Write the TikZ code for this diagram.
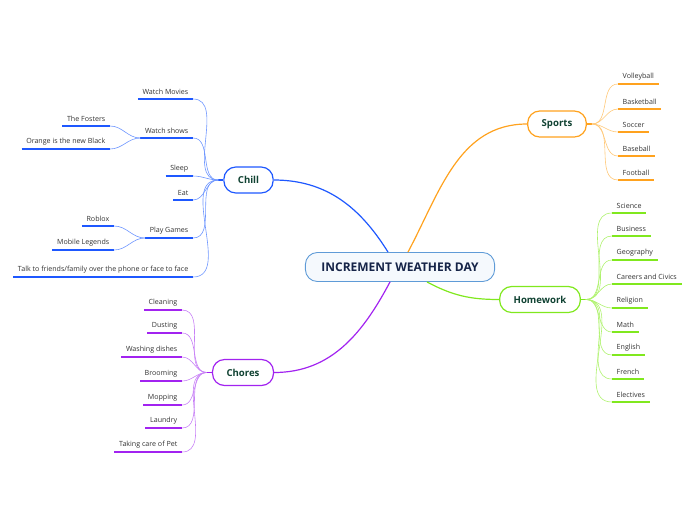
\documentclass[tikz,border=0pt]{standalone}
\usepackage{fontspec}
\setmainfont{Open Sans}
\usetikzlibrary{positioning, calc}
\definecolor{CB}{RGB}{30,88,255}
\definecolor{LB}{RGB}{110,150,255}
\definecolor{CO}{RGB}{255,162,30}
\definecolor{LO}{RGB}{255,200,120}
\definecolor{CG}{RGB}{128,232,30}
\definecolor{LG}{RGB}{175,242,110}
\definecolor{CP}{RGB}{162,35,240}
\definecolor{LP}{RGB}{200,130,246}
\definecolor{TB}{RGB}{95,155,215}
\definecolor{TN}{RGB}{22,36,72}
\definecolor{TG}{RGB}{16,66,50}
\definecolor{DG}{RGB}{50,50,50}

\begin{document}
\begin{tikzpicture}[x=1pt, y=1pt,
  title/.style={draw=TB, rounded corners=12pt, line width=0.9pt, fill=TB!6,
                minimum height=29pt, inner xsep=16pt,
                font=\fontsize{12}{14}\selectfont\bfseries, text=TN},
  topic/.style={draw=#1, rounded corners=12pt, line width=1.2pt, fill=white,
                minimum height=26pt, inner xsep=14pt,
                font=\fontsize{9.6}{11}\selectfont\bfseries, text=TG},
  leafL/.style={anchor=south east, inner xsep=4.5pt, inner ysep=4pt,
                font=\fontsize{7.1}{8.5}\selectfont, text=DG,
                append after command={(\tikzlastnode.south west)
                  edge[draw=#1, line width=1.6pt] (\tikzlastnode.south east)}},
  leafR/.style={anchor=south west, inner xsep=4.5pt, inner ysep=4pt,
                font=\fontsize{7.1}{8.5}\selectfont, text=DG,
                append after command={(\tikzlastnode.south west)
                  edge[draw=#1, line width=1.6pt] (\tikzlastnode.south east)}},
  limb/.style={draw=#1, line width=1.2pt},
  twig/.style={draw=#1, line width=0.6pt}
]
\useasboundingbox (0,0) rectangle (696,-520);

% Main topics
\node[title]    (day)   at (400,-267) {INCREMENT WEATHER DAY};
\node[topic=CB] (chill) at (248.5,-180) {Chill};
\node[topic=CO] (sport) at (557,-124) {Sports};
\node[topic=CG] (home)  at (540,-299.5) {Homework};
\node[topic=CP] (chore) at (243,-372.5) {Chores};

\draw[limb=CB] ($(day.north)+(-12,0)$) to[out=122,in=0] (chill.east);
\draw[limb=CO] ($(day.north)+(8,0)$) to[out=62,in=180] (sport.west);
\draw[limb=CG] ($(day.south)+(27,0)$) to[out=-28,in=180] (home.west);
\draw[limb=CP] ($(day.south)+(-10,0)$) to[out=-118,in=0] (chore.east);

% Joints
\coordinate (chJ) at ($(chill.west)+(-5,0)$);
\coordinate (spJ) at ($(sport.east)+(5,0)$);
\coordinate (hoJ) at ($(home.east)+(5,0)$);
\coordinate (coJ) at ($(chore.west)+(-5,0)$);
\draw[limb=CB] (chJ)--(chill.west);
\draw[limb=CO] (spJ)--(sport.east);
\draw[limb=CG] (hoJ)--(home.east);
\draw[limb=CP] (coJ)--(chore.west);

% Chill
\node[leafL=CB] (movie)  at (193,-99)  {Watch Movies};
\node[leafL=CB] (shows)  at (193,-138) {Watch shows};
\node[leafL=CB] (foster) at (110,-126) {The Fosters};
\node[leafL=CB] (orange) at (110,-149) {Orange is the new Black};
\node[leafL=CB] (sleep)  at (193,-176) {Sleep};
\node[leafL=CB] (eat)    at (193,-200) {Eat};
\node[leafL=CB] (games)  at (193,-238) {Play Games};
\node[leafL=CB] (roblox) at (114,-226) {Roblox};
\node[leafL=CB] (mobile) at (114,-250) {Mobile Legends};
\node[leafL=CB] (talk)   at (193,-277) {Talk to friends/family over the phone or face to face};

\draw[twig=LB] (movie.south east) to[out=0,in=180] (chJ);
\draw[twig=LB] (shows.south east) to[out=0,in=180] (chJ);
\draw[twig=LB] (sleep.south east) to[out=0,in=180] (chJ);
\draw[twig=LB] (eat.south east)   to[out=0,in=180] (chJ);
\draw[twig=LB] (games.south east) to[out=0,in=180] (chJ);
\draw[twig=LB] (talk.south east)  to[out=0,in=180] (chJ);
\draw[twig=LB] (foster.south east) to[out=0,in=180] (shows.south west);
\draw[twig=LB] (orange.south east) to[out=0,in=180] (shows.south west);
\draw[twig=LB] (roblox.south east) to[out=0,in=180] (games.south west);
\draw[twig=LB] (mobile.south east) to[out=0,in=180] (games.south west);

% Chores
\node[leafL=CP] (clean) at (182,-310) {Cleaning};
\node[leafL=CP] (dust)  at (182,-333) {Dusting};
\node[leafL=CP] (dish)  at (182,-357) {Washing dishes};
\node[leafL=CP] (broom) at (182,-381) {Brooming};
\node[leafL=CP] (mop)   at (182,-405) {Mopping};
\node[leafL=CP] (laund) at (182,-428) {Laundry};
\node[leafL=CP] (pet)   at (182,-452) {Taking care of Pet};

\draw[twig=LP] (clean.south east) to[out=0,in=180] (coJ);
\draw[twig=LP] (dust.south east)  to[out=0,in=180] (coJ);
\draw[twig=LP] (dish.south east)  to[out=0,in=180] (coJ);
\draw[twig=LP] (broom.south east) to[out=0,in=180] (coJ);
\draw[twig=LP] (mop.south east)   to[out=0,in=180] (coJ);
\draw[twig=LP] (laund.south east) to[out=0,in=180] (coJ);
\draw[twig=LP] (pet.south east)   to[out=0,in=180] (coJ);

% Sports
\node[leafR=CO] (volley) at (618,-84)  {Volleyball};
\node[leafR=CO] (basket) at (618,-109) {Basketball};
\node[leafR=CO] (soccer) at (618,-132) {Soccer};
\node[leafR=CO] (base)   at (618,-156) {Baseball};
\node[leafR=CO] (foot)   at (618,-180) {Football};

\draw[twig=LO] (spJ) to[out=0,in=180] (volley.south west);
\draw[twig=LO] (spJ) to[out=0,in=180] (basket.south west);
\draw[twig=LO] (spJ) to[out=0,in=180] (soccer.south west);
\draw[twig=LO] (spJ) to[out=0,in=180] (base.south west);
\draw[twig=LO] (spJ) to[out=0,in=180] (foot.south west);

% Homework
\node[leafR=CG] (sci)   at (612,-213) {Science};
\node[leafR=CG] (bus)   at (612,-236) {Business};
\node[leafR=CG] (geo)   at (612,-260) {Geography};
\node[leafR=CG] (civ)   at (612,-284) {Careers and Civics};
\node[leafR=CG] (rel)   at (612,-308) {Religion};
\node[leafR=CG] (math)  at (612,-332) {Math};
\node[leafR=CG] (eng)   at (612,-355) {English};
\node[leafR=CG] (fre)   at (612,-379) {French};
\node[leafR=CG] (elec)  at (612,-402) {Electives};

\draw[twig=LG] (hoJ) to[out=0,in=180] (sci.south west);
\draw[twig=LG] (hoJ) to[out=0,in=180] (bus.south west);
\draw[twig=LG] (hoJ) to[out=0,in=180] (geo.south west);
\draw[twig=LG] (hoJ) to[out=0,in=180] (civ.south west);
\draw[twig=LG] (hoJ) to[out=0,in=180] (rel.south west);
\draw[twig=LG] (hoJ) to[out=0,in=180] (math.south west);
\draw[twig=LG] (hoJ) to[out=0,in=180] (eng.south west);
\draw[twig=LG] (hoJ) to[out=0,in=180] (fre.south west);
\draw[twig=LG] (hoJ) to[out=0,in=180] (elec.south west);
\end{tikzpicture}
\end{document}
